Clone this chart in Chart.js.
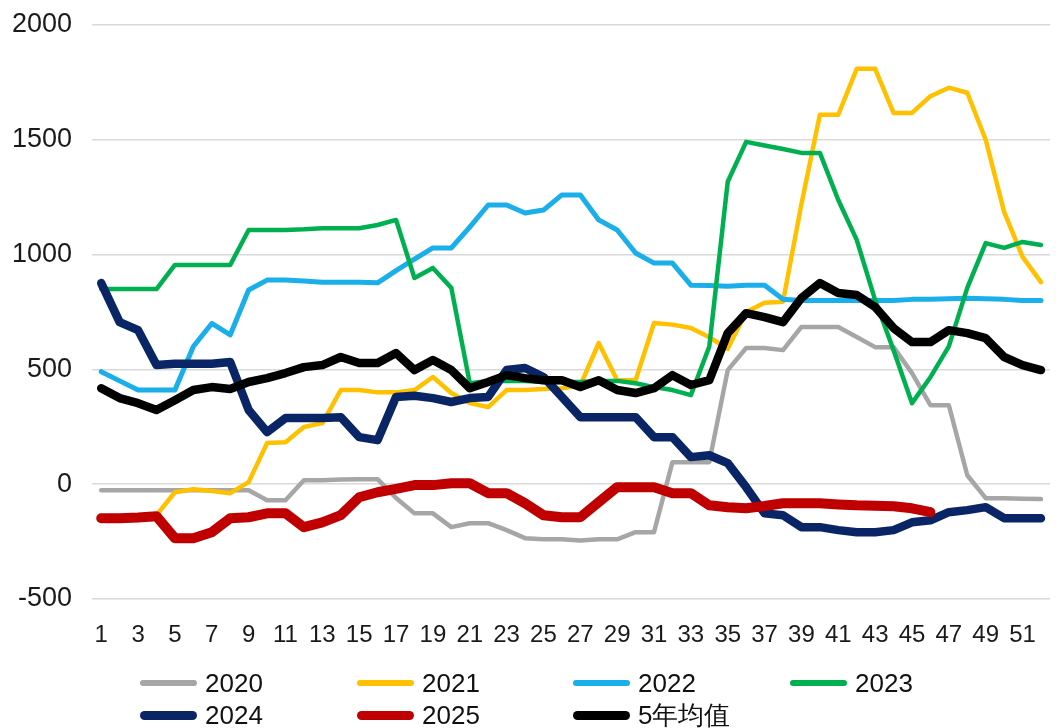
<!DOCTYPE html>
<html>
<head>
<meta charset="utf-8">
<script src="https://cdn.jsdelivr.net/npm/chart.js@4"></script>
<style>
  html, body { margin: 0; padding: 0; background: #fff; }
  #wrap { position: relative; width: 1063px; height: 728px; }
  #c { position: absolute; left: 0; top: 0; }
  .lg { position: absolute; font-family: "Liberation Sans", Arial, sans-serif; font-size: 26px; color: #111; line-height: 30px; height: 30px; white-space: nowrap; }
  .lg .sw { position: absolute; left: 0; top: 50%; width: 57px; border-radius: 5px; }
  .lg .tx { position: absolute; left: 65px; top: 0; }
</style>
</head>
<body>
<div id="wrap">
  <canvas id="c" width="1063" height="728"></canvas>
  <div id="legend"></div>
</div>
<script>
const weeks = Array.from({length: 52}, (_, i) => String(i + 1));
const yTicks = [-500, 0, 500, 1000, 1500, 2000];

const s2020 = [-26,-26,-26,-26,-26,-26,-26,-26,-26,-70,-70,17,17,20,22,22,-60,-127,-127,-187,-170,-170,-200,-235,-240,-240,-245,-240,-240,-209,-209,96,96,96,497,593,593,584,685,685,685,641,597,597,484,344,344,39,-61,-61,-63,-65];
const s2021 = [-150,-150,-148,-135,-35,-22,-30,-39,9,179,183,249,266,410,410,400,400,410,467,397,353,336,410,410,415,418,430,615,453,453,702,695,680,640,590,750,790,795,1220,1609,1609,1809,1809,1617,1617,1690,1727,1705,1500,1186,990,880];
const s2022 = [490,450,410,410,410,600,700,650,846,889,889,885,880,880,880,877,930,980,1029,1029,1120,1216,1216,1181,1194,1260,1260,1151,1107,1007,963,963,867,865,862,867,867,806,800,800,800,800,800,800,805,806,808,810,808,805,800,800];
const s2023 = [850,850,850,850,955,955,955,955,1107,1107,1107,1110,1115,1115,1115,1129,1151,898,942,855,440,450,450,450,445,445,445,450,450,440,423,410,388,600,1317,1491,1475,1460,1443,1443,1238,1064,802,584,353,466,600,855,1050,1029,1055,1042];
const s2024 = [876,706,671,519,525,525,525,532,323,227,288,288,288,292,205,192,380,385,375,358,375,380,497,506,467,380,292,292,292,292,205,205,118,126,92,-13,-127,-135,-187,-187,-200,-209,-209,-200,-166,-157,-122,-113,-100,-148,-148,-148];
const s2025 = [-148,-148,-145,-140,-235,-235,-209,-148,-144,-127,-127,-187,-166,-135,-57,-35,-20,-4,-4,4,4,-39,-39,-83,-135,-144,-144,-78,-13,-13,-13,-39,-39,-92,-100,-105,-95,-83,-83,-83,-88,-92,-94,-96,-105,-122,null,null,null,null,null,null];
const sAvg = [418,375,353,323,366,410,423,415,445,462,484,510,519,554,528,528,571,497,541,497,418,445,475,462,453,453,423,453,410,397,418,475,432,453,658,745,728,706,811,876,833,824,772,680,619,619,671,658,636,554,519,497];

const seriesNames = ['2020','2021','2022','2023','2024','2025','5年均值'];
const seriesData = [s2020, s2021, s2022, s2023, s2024, s2025, sAvg];
const seriesColors = ['#A6A6A6','#FFC000','#1AAEEA','#00B050','#0A2566','#C00000','#000000'];
const seriesWidths = [4.5, 4.5, 5, 4.5, 8.5, 10, 8.5];

const datasets = seriesNames.map((n, i) => ({
  label: n,
  data: seriesData[i],
  borderColor: seriesColors[i],
  backgroundColor: seriesColors[i],
  borderWidth: seriesWidths[i],
  pointRadius: 0,
  pointHoverRadius: 0,
  tension: 0,
  fill: false,
  spanGaps: false,
  borderJoinStyle: 'round',
  borderCapStyle: 'round',
  order: seriesNames.length - i
}));

new Chart(document.getElementById('c'), {
  type: 'line',
  data: { labels: weeks, datasets },
  options: {
    responsive: false,
    animation: false,
    devicePixelRatio: 1,
    layout: { padding: { top: 25, right: 2, left: 0, bottom: 0 } },
    plugins: { legend: { display: false }, tooltip: { enabled: false } },
    scales: {
      x: {
        type: 'category',
        offset: true,
        grid: { display: false, drawTicks: false },
        border: { display: false },
        afterFit: (s) => { s.height = 129; },
        ticks: {
          autoSkip: false, maxRotation: 0, minRotation: 0, padding: 22,
          color: '#1a1a1a',
          font: { family: '"Liberation Sans", Arial, sans-serif', size: 24 },
          callback: function(v, i) { return i % 2 === 0 ? weeks[i] : ''; }
        }
      },
      y: {
        min: -500, max: 2000,
        afterBuildTicks: (s) => { s.ticks = yTicks.map(v => ({ value: v })); },
        afterFit: (s) => { s.width = 92; s.paddingTop = 10; s.paddingBottom = 10; },
        grid: { color: '#d9d9d9', lineWidth: 1.5, drawTicks: false },
        border: { display: false },
        ticks: {
          padding: 20, color: '#1a1a1a',
          font: { family: '"Liberation Sans", Arial, sans-serif', size: 27 },
          callback: (v) => String(v)
        }
      }
    }
  }
});

// legend (two rows, left aligned columns)
const legendPos = [[140,683],[357,683],[573,683],[790,683],[140,715],[357,715],[573,715]];
const lgEl = document.getElementById('legend');
seriesNames.forEach((n, i) => {
  const d = document.createElement('div');
  d.className = 'lg';
  d.style.left = legendPos[i][0] + 'px';
  d.style.top = (legendPos[i][1] - 15) + 'px';
  const h = seriesWidths[i] >= 8 ? 9 : 5.5;
  d.innerHTML = '<span class="sw" style="background:' + seriesColors[i] + ';height:' + h + 'px;margin-top:' + (-h/2) + 'px"></span><span class="tx">' + n + '</span>';
  lgEl.appendChild(d);
});
</script>
</body>
</html>
